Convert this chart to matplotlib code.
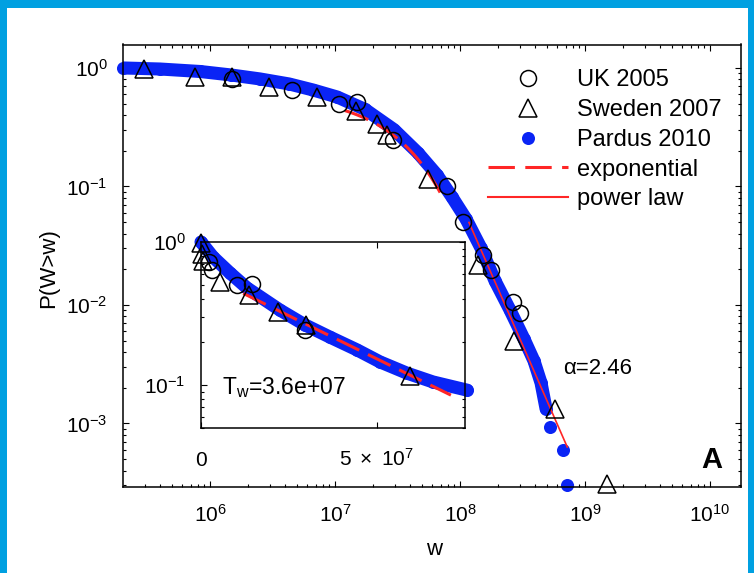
import numpy as np
import matplotlib
matplotlib.use("Agg")
import matplotlib.pyplot as plt
from matplotlib.lines import Line2D
from matplotlib.patches import Rectangle
from matplotlib.ticker import LogLocator, NullFormatter, FixedLocator, FixedFormatter

# main panel: P(W>w) against w, log-log
pardus_w = [2.01e5, 3.98e5, 8.32e5, 1.47e6, 2.51e6, 4.29e6, 6.67e6, 1.04e7, 1.74e7,
            2.96e7, 4.61e7, 6.55e7, 8.63e7, 1.117e8, 1.47e8, 1.905e8, 2.51e8, 3.25e8,
            3.91e8, 4.45e8, 4.88e8]
pardus_p = [1.0, 0.98, 0.934, 0.873, 0.808, 0.733, 0.652, 0.569, 0.447,
            0.302, 0.192, 0.125, 0.0815, 0.0532, 0.0303, 0.0160, 0.00908, 0.00517,
            0.00337, 0.00220, 0.00133]
pardus_tail_w = [5.25e8, 6.67e8, 7.18e8]
pardus_tail_p = [9.3e-4, 5.97e-4, 3.03e-4]

uk_w = [1.50e6, 4.53e6, 1.08e7, 1.50e7, 2.91e7, 7.87e7, 1.057e8, 1.528e8, 1.77e8, 2.65e8, 3.02e8]
uk_p = [0.80, 0.652, 0.497, 0.516, 0.247, 0.101, 0.0501, 0.0264, 0.0197, 0.0106, 0.00856]

se_w = [2.97e5, 7.59e5, 1.50e6, 2.96e6, 7.18e6, 1.47e7, 2.17e7, 2.61e7, 5.55e7,
        1.39e8, 2.70e8, 5.75e8, 1.50e9]
se_p = [0.981, 0.839, 0.839, 0.691, 0.569, 0.434, 0.337, 0.272, 0.116,
        0.0218, 0.00497, 0.00133, 3.09e-4]

# fitted lines
T_w = 3.6e7
exp_amp = 0.61
exp_range = (1.2e7, 7.1e7)
pl_w = [1.18e8, 7.21e8]
pl_p = [0.0497, 6.33e-4]
alpha = 2.46

# inset: P(W>w) against w, semi-log
in_pardus_w = [0.0, 3.41e6, 8.24e6, 1.307e7, 2.244e7, 2.955e7, 3.665e7, 4.43e7, 5.085e7,
               5.85e7, 6.59e7, 7.56e7]
in_pardus_p = [1.0, 0.785, 0.607, 0.477, 0.334, 0.263, 0.216, 0.176, 0.145,
               0.121, 0.105, 0.092]
in_uk_w = [2.27e6, 3.1e6, 1.02e7, 1.45e7, 2.95e7]
in_uk_p = [0.725, 0.637, 0.500, 0.508, 0.242]
in_se_w = [0.0, 2e5, 5.7e5, 5.4e6, 1.36e7, 2.19e7, 2.98e7, 5.94e7]
in_se_p = [0.99, 0.824, 0.736, 0.525, 0.426, 0.324, 0.263, 0.116]

BLUE = "#0A24F5"
RED = "#FF2626"
FRAME = "#00A0E1"

plt.rcParams.update({
    "font.family": ["Liberation Sans", "DejaVu Sans"],
    "mathtext.fontset": "custom",
    "mathtext.rm": "Liberation Sans",
    "mathtext.it": "Liberation Sans:italic",
    "mathtext.bf": "Liberation Sans:bold",
    "lines.scale_dashes": False,
    "axes.linewidth": 1.1,
})

fig = plt.figure(figsize=(7.54, 5.73), dpi=100)
fig.patch.set_facecolor("white")

# blue frame of the slide
fig.add_artist(Rectangle((0, 1 - 8 / 573), 1, 8 / 573, transform=fig.transFigure,
                         facecolor=FRAME, edgecolor="none"))
fig.add_artist(Rectangle((0, 0), 7 / 754, 1, transform=fig.transFigure,
                         facecolor=FRAME, edgecolor="none"))
fig.add_artist(Rectangle((1 - 6 / 754, 0), 6 / 754, 1, transform=fig.transFigure,
                         facecolor=FRAME, edgecolor="none"))

x0, x1 = 123, 741
ax = fig.add_axes([x0 / 754, 86 / 573, (x1 - x0) / 754, 442.5 / 573])
ax.set_xscale("log")
ax.set_yscale("log")

ax.plot(pardus_w, pardus_p, color=BLUE, lw=9.4, solid_capstyle="round",
        solid_joinstyle="round", zorder=2)
ax.plot(pardus_w + pardus_tail_w, pardus_p + pardus_tail_p, ls="none", marker="o",
        ms=9.4, mfc=BLUE, mec="none", zorder=2, clip_on=False)

exp_w = np.linspace(exp_range[0], exp_range[1], 80)
ax.plot(exp_w, exp_amp * np.exp(-exp_w / T_w), color=RED, lw=2.2,
        ls=(0, (18, 7)), zorder=3)
ax.plot(pl_w, pl_p, color=RED, lw=1.2, zorder=3)

ax.plot(uk_w, uk_p, ls="none", marker="o", ms=11.5, mfc="none", mec="black",
        mew=1.1, zorder=4, clip_on=False)
ax.plot(se_w, se_p, ls="none", marker="^", ms=13, mfc="none", mec="black",
        mew=1.1, zorder=4, clip_on=False)

ax.set_xlim(10 ** 5.304, 10 ** (6 + (x1 - 210) / 125))
ax.set_ylim(10 ** -3.536, 10 ** 0.198)
ax.xaxis.set_major_locator(FixedLocator([1e6, 1e7, 1e8, 1e9, 1e10]))
ax.xaxis.set_minor_locator(LogLocator(base=10, subs=np.arange(2, 10), numticks=20))
ax.yaxis.set_major_locator(FixedLocator([1e-3, 1e-2, 1e-1, 1e0]))
ax.yaxis.set_minor_locator(LogLocator(base=10, subs=np.arange(2, 10), numticks=20))
ax.xaxis.set_minor_formatter(NullFormatter())
ax.yaxis.set_minor_formatter(NullFormatter())
ax.tick_params(which="both", direction="in", top=True, right=True, width=0.8)
ax.tick_params(which="major", length=4.5, labelsize=15)
ax.tick_params(which="minor", length=2.3)
ax.tick_params(axis="x", which="major", pad=12.5)
ax.tick_params(axis="y", which="major", pad=11)

axw = x1 - x0
ax.set_xlabel("w", fontsize=16)
ax.xaxis.set_label_coords((434 - x0) / axw, (487 - 539) / 442.5)
ax.set_ylabel("P(W>w)", fontsize=16)
ax.yaxis.set_label_coords((59 - x0) / axw, 0.495)

handles = [
    Line2D([], [], ls="none", marker="o", ms=11.5, mfc="none", mec="black", mew=1.1),
    Line2D([], [], ls="none", marker="^", ms=13, mfc="none", mec="black", mew=1.1),
    Line2D([], [], ls="none", marker="o", ms=9.4, mfc=BLUE, mec="none"),
    Line2D([], [], color=RED, lw=2.2, ls=(0, (19, 7.5))),
    Line2D([], [], color=RED, lw=1.5),
]
labels = ["UK 2005", "Sweden 2007", "Pardus 2010", "exponential", "power law"]
ax.legend(handles, labels, loc="upper left", bbox_to_anchor=((488 - x0) / axw, 0.944),
          frameon=False, fontsize=17, handlelength=3.4, handletextpad=0.38,
          labelspacing=0.33, borderpad=0, borderaxespad=0, numpoints=1)

ax.text((598 - x0) / axw, (487 - 369) / 442.5, "\u03b1=%.2f" % alpha, transform=ax.transAxes,
        ha="center", va="center", fontsize=16)
ax.text((712 - x0) / axw, (487 - 460) / 442.5, "A", transform=ax.transAxes,
        ha="center", va="center", fontsize=21, fontweight="bold")

# inset
axi = fig.add_axes([201 / 754, 145 / 573, 264 / 754, 186 / 573])
axi.set_yscale("log")
axi.plot(in_pardus_w, in_pardus_p, color=BLUE, lw=9.4, solid_capstyle="round",
         solid_joinstyle="round", zorder=2, clip_on=False)
axi.plot(in_pardus_w, in_pardus_p, ls="none", marker="o", ms=9.4, mfc=BLUE,
         mec="none", zorder=2, clip_on=False)
axi.plot(exp_w, exp_amp * np.exp(-exp_w / T_w), color=RED, lw=2.2,
         ls=(0, (18, 7)), zorder=3)
axi.plot(in_uk_w, in_uk_p, ls="none", marker="o", ms=11.5, mfc="none", mec="black",
         mew=1.1, zorder=4, clip_on=False)
axi.plot(in_se_w, in_se_p, ls="none", marker="^", ms=13, mfc="none", mec="black",
         mew=1.1, zorder=4, clip_on=False)

axi.set_xlim(0, 7.5e7)
axi.set_ylim(0.05, 1.0)
axi.xaxis.set_major_locator(FixedLocator([0, 5e7]))
axi.xaxis.set_major_formatter(FixedFormatter(["0", r"$5\ \times\ 10^{7}$"]))
axi.yaxis.set_major_locator(FixedLocator([0.1, 1.0]))
axi.yaxis.set_major_formatter(FixedFormatter([r"$10^{-1}$", r"$10^{0}$"]))
axi.yaxis.set_minor_locator(LogLocator(base=10, subs=np.arange(2, 10), numticks=20))
axi.yaxis.set_minor_formatter(NullFormatter())
axi.tick_params(which="both", direction="in", top=True, right=True, width=0.8)
axi.tick_params(which="major", length=4.5, labelsize=15)
axi.tick_params(which="minor", length=2.3)
axi.tick_params(axis="x", pad=27)
axi.tick_params(axis="y", pad=11)
for lab in axi.get_xticklabels():
    lab.set_verticalalignment("baseline")

axi.text(0.08, (428 - 394) / 186, r"T$_{\mathrm{w}}$=%.1e" % T_w, transform=axi.transAxes,
         ha="left", va="baseline", fontsize=16.5)

fig.savefig("out.png", dpi=100)
